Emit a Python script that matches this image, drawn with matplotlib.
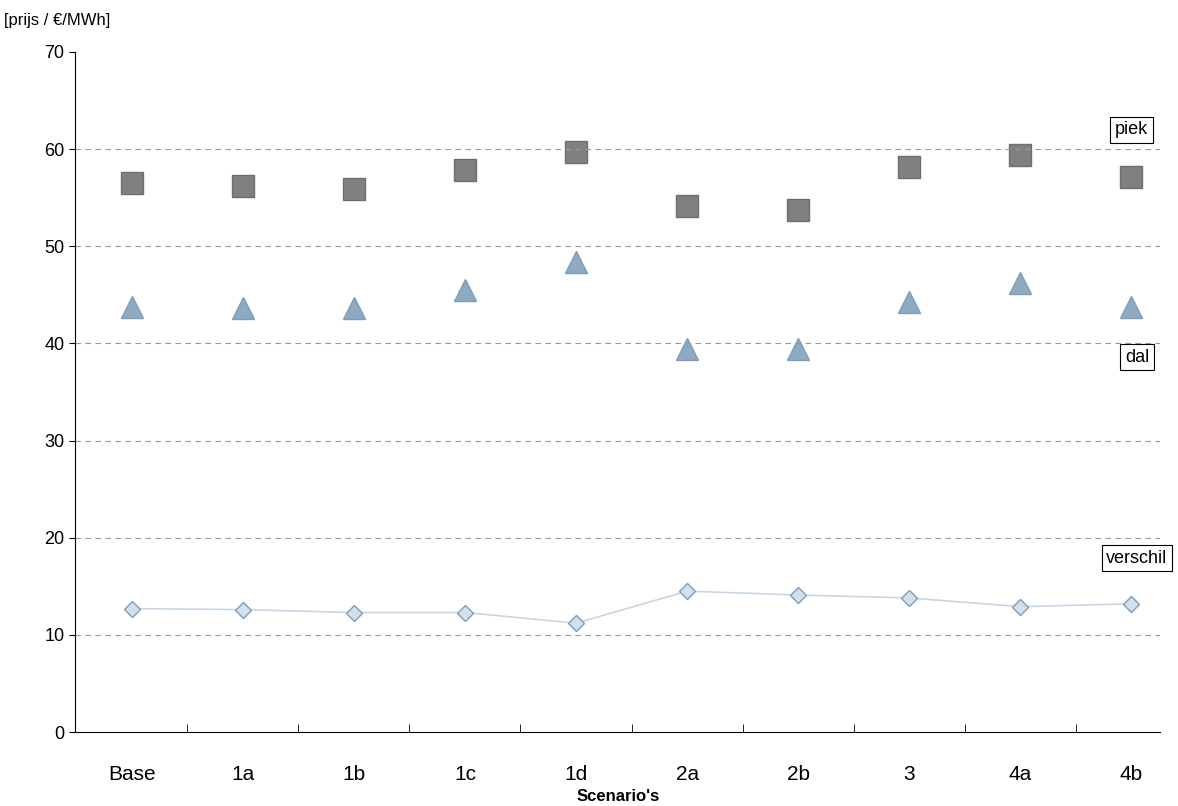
import numpy as np
import matplotlib.pyplot as plt

plt.rcParams["font.family"] = ["Liberation Sans", "DejaVu Sans"]

scenarios = ["Base", "1a", "1b", "1c", "1d", "2a", "2b", "3", "4a", "4b"]
piek = [56.5, 56.2, 55.9, 57.9, 59.7, 54.1, 53.7, 58.2, 59.4, 57.1]
dal = [43.8, 43.6, 43.6, 45.5, 48.4, 39.4, 39.4, 44.3, 46.2, 43.8]
verschil = [12.7, 12.6, 12.3, 12.3, 11.2, 14.5, 14.1, 13.8, 12.9, 13.2]

fig = plt.figure(figsize=(11.78, 8.06), dpi=100)
ax = fig.add_axes([0.0637, 0.0918, 0.9213, 0.8437])
x = np.arange(len(scenarios))

ax.plot(x, piek, "s", color="#808080", markersize=16, markeredgecolor="#6e6e6e")
ax.plot(x, dal, "^", color="#8eaac3", markersize=16, markeredgecolor="#7f9cb6")
ax.plot(x, verschil, "-D", color="#c6d6e6", markerfacecolor="#d2e0ee",
        markeredgecolor="#7f9cb6", markersize=8, linewidth=1.2)

ax.set_xlim(-0.51, 9.26)
ax.set_ylim(0, 70)
ax.set_yticks(range(0, 71, 10))
ax.set_xticks(x)
ax.set_xticklabels(scenarios, fontsize=15)
ax.tick_params(axis="x", length=0, pad=24)
ax.set_xticks(np.arange(0.5, len(scenarios) - 0.5), minor=True)
ax.tick_params(axis="x", which="minor", length=6, direction="in")
ax.tick_params(axis="y", labelsize=13, length=4, direction="out")
for v in range(10, 70, 10):
    ax.axhline(v, color="#999999", linestyle="--", linewidth=0.8, dashes=(5, 4))
for s in ["top", "right"]:
    ax.spines[s].set_visible(False)
ax.set_xlabel("Scenario's", fontsize=12, fontweight="bold", labelpad=3)
fig.text(0.003, 0.975, "[prijs / €/MWh]", fontsize=12, ha="left", va="center")

box = dict(boxstyle="square,pad=0.25", facecolor="white", edgecolor="black", linewidth=0.8)
ax.text(9.0, 62.0, "piek", fontsize=13, ha="center", va="center", bbox=box)
ax.text(9.05, 38.6, "dal", fontsize=13, ha="center", va="center", bbox=box)
ax.text(9.05, 17.9, "verschil", fontsize=13, ha="center", va="center", bbox=box)

fig.savefig("out.png", dpi=100)
